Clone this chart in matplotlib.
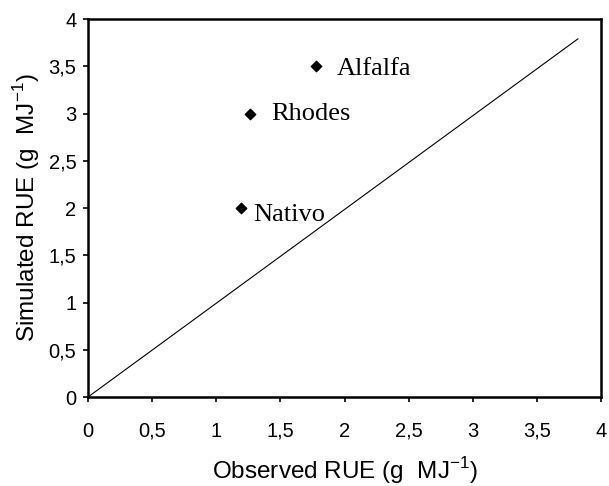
import matplotlib
matplotlib.use("Agg")
import matplotlib.pyplot as plt

# observed vs simulated RUE
names = ["Alfalfa", "Rhodes", "Nativo"]
observed = [1.78, 1.26, 1.19]
simulated = [3.5, 3.0, 2.0]

line_x = [0, 3.82]
line_y = [0, 3.79]

ticks = [0, 0.5, 1, 1.5, 2, 2.5, 3, 3.5, 4]
tick_labels = ["0", "0,5", "1", "1,5", "2", "2,5", "3", "3,5", "4"]

plt.rcParams["font.family"] = "Liberation Sans"

fig = plt.figure(figsize=(6.09, 4.86), dpi=100)
ax = fig.add_axes([0.1445, 0.1831, 0.8424, 0.7778])

ax.plot(line_x, line_y, color="black", lw=0.8)
ax.scatter(observed, simulated, marker="D", s=28, color="black", zorder=3)

# label offsets (data units), text baseline below the point
offsets = [(0.16, -0.095), (0.17, -0.074), (0.098, -0.142)]
for n, x, y, (dx, dy) in zip(names, observed, simulated, offsets):
    ax.text(x + dx, y + dy, n, family="Liberation Serif", fontsize=19,
            va="baseline", ha="left")

ax.set_xlim(0, 4)
ax.set_ylim(0, 4)
ax.set_xticks(ticks)
ax.set_xticklabels(tick_labels)
ax.set_yticks(ticks)
ax.set_yticklabels(tick_labels)
ax.tick_params(direction="out", length=3.8, width=1.2, labelsize=14.5, pad=4.5)
ax.tick_params(axis="x", pad=14)
for s in ax.spines.values():
    s.set_linewidth(1.8)

ax.set_xlabel("Observed RUE (g  MJ$^{\\mathregular{-1}}$)", fontsize=17.5, labelpad=10.5)
ax.set_ylabel("Simulated RUE (g  MJ$^{\\mathregular{-1}}$)", fontsize=17.5, labelpad=5)

fig.savefig("out.png", dpi=100)
